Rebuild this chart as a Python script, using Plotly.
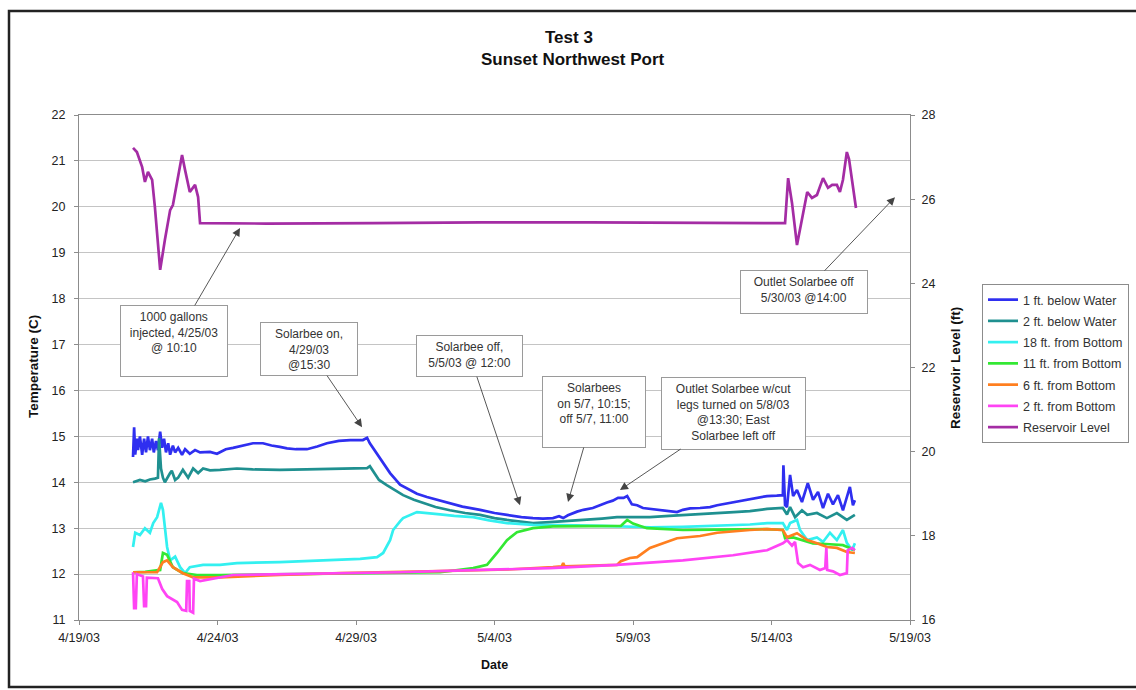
import pandas as pd
import plotly.graph_objects as go

START = pd.Timestamp("2003-04-19")

# ---- data: elapsed days since 4/19/03 00:00 and readings ----
blue_days = [1.95, 1.99, 2.03, 2.09, 2.13, 2.20, 2.28, 2.35, 2.42, 2.49, 2.56, 2.64, 2.70, 2.78, 2.85, 2.93,
             3.00, 3.07, 3.14, 3.22, 3.29, 3.39, 3.47, 3.58, 3.72, 3.83, 4.00, 4.19, 4.37, 4.73, 4.98, 5.30,
             5.56, 5.98, 6.28, 6.64, 6.95, 7.25, 7.51, 7.83, 8.23, 8.60, 8.95, 9.38, 9.79, 10.25, 10.40, 10.50,
             10.61, 10.76, 10.98, 11.23, 11.59, 11.84, 12.20, 12.56, 13.04, 13.39, 13.84, 14.48, 15.00, 15.45,
             15.97, 16.39, 16.75, 17.11, 17.33, 17.48, 17.65, 17.98, 18.21, 18.55, 18.79, 19.06, 19.27, 19.46,
             19.66, 19.79, 19.96, 20.15, 20.36, 20.63, 20.98, 21.31, 21.59, 21.80, 22.06, 22.42, 22.78, 23.04,
             23.50, 23.86, 24.22, 24.59, 24.84, 25.19, 25.41, 25.43, 25.49, 25.56, 25.67, 25.78, 25.92, 26.10,
             26.31, 26.50, 26.68, 26.86, 27.04, 27.22, 27.40, 27.58, 27.83, 27.94, 28.01]
blue_temp = [14.55, 15.20, 14.60, 14.95, 14.70, 15.00, 14.60, 14.95, 14.65, 15.00, 14.70, 14.95, 14.65, 14.90,
             14.70, 15.10, 14.75, 14.95, 14.65, 14.85, 14.60, 14.80, 14.65, 14.75, 14.60, 14.72, 14.62, 14.70,
             14.65, 14.66, 14.62, 14.72, 14.75, 14.80, 14.85, 14.85, 14.80, 14.77, 14.74, 14.72, 14.72, 14.78,
             14.85, 14.90, 14.92, 14.92, 14.97, 14.85, 14.75, 14.64, 14.42, 14.20, 13.95, 13.87, 13.75, 13.68,
             13.60, 13.55, 13.47, 13.40, 13.33, 13.29, 13.24, 13.22, 13.21, 13.22, 13.26, 13.22, 13.28, 13.36,
             13.40, 13.44, 13.50, 13.56, 13.60, 13.66, 13.66, 13.70, 13.52, 13.50, 13.44, 13.42, 13.39, 13.37,
             13.35, 13.40, 13.43, 13.44, 13.46, 13.50, 13.55, 13.60, 13.64, 13.67, 13.70, 13.71, 13.72, 14.37,
             13.50, 13.46, 14.16, 13.70, 13.83, 13.57, 13.98, 13.62, 13.79, 13.44, 13.75, 13.52, 13.72, 13.39,
             13.90, 13.50, 13.61]

teal_days = [1.95, 2.20, 2.39, 2.56, 2.74, 2.85, 2.89, 2.96, 3.03, 3.10, 3.29, 3.35, 3.47, 3.58, 3.75, 3.94,
             4.12, 4.30, 4.48, 4.73, 5.09, 5.70, 6.27, 7.25, 8.21, 9.18, 9.96, 10.40, 10.50, 10.61, 10.83, 11.11,
             11.42, 11.70, 12.09, 12.41, 12.87, 13.39, 13.94, 14.48, 15.00, 15.45, 15.97, 16.39, 17.00, 17.62,
             18.20, 18.88, 19.42, 20.15, 20.61, 21.31, 21.80, 22.38, 23.04, 23.64, 24.22, 24.84, 25.41, 25.56,
             25.67, 25.85, 26.10, 26.29, 26.64, 27.00, 27.36, 27.72, 28.01]
teal_temp = [14.00, 14.05, 14.02, 14.06, 14.08, 14.10, 14.96, 14.30, 14.10, 14.00, 14.20, 14.25, 14.05, 14.10,
             14.27, 14.10, 14.30, 14.20, 14.30, 14.26, 14.27, 14.30, 14.28, 14.27, 14.28, 14.30, 14.30, 14.31,
             14.35, 14.25, 14.05, 13.94, 13.82, 13.72, 13.62, 13.55, 13.46, 13.39, 13.33, 13.29, 13.22, 13.18,
             13.14, 13.11, 13.13, 13.15, 13.18, 13.21, 13.24, 13.24, 13.24, 13.27, 13.29, 13.31, 13.33, 13.35,
             13.37, 13.42, 13.44, 13.30, 13.46, 13.24, 13.39, 13.29, 13.33, 13.22, 13.33, 13.18, 13.29]

cyan_days = [1.95, 2.03, 2.20, 2.38, 2.56, 2.68, 2.82, 2.96, 3.03, 3.18, 3.29, 3.47, 3.65, 3.83, 4.00, 4.48,
             5.09, 5.70, 7.25, 8.21, 9.43, 10.15, 10.76, 10.98, 11.23, 11.34, 11.59, 11.70, 12.20, 12.58, 13.04,
             13.55, 14.23, 14.81, 15.45, 16.39, 17.11, 17.91, 18.88, 19.85, 20.61, 21.79, 23.04, 24.22, 24.84,
             25.41, 25.56, 25.67, 25.92, 26.03, 26.29, 26.64, 26.86, 27.11, 27.36, 27.58, 27.72, 27.91, 28.01]
cyan_temp = [12.59, 12.90, 12.85, 13.00, 12.90, 13.11, 13.24, 13.55, 13.40, 12.59, 12.30, 12.38, 12.15, 12.02,
             12.15, 12.20, 12.20, 12.24, 12.26, 12.28, 12.30, 12.33, 12.37, 12.46, 12.74, 12.96, 13.15, 13.22,
             13.35, 13.32, 13.30, 13.27, 13.24, 13.17, 13.11, 13.07, 13.07, 13.06, 13.05, 13.04, 13.02, 13.03,
             13.05, 13.08, 13.11, 13.11, 12.96, 13.11, 13.18, 12.96, 12.74, 12.80, 12.70, 12.90, 12.74, 12.96,
             12.68, 12.52, 12.67]

green_days = [1.95, 2.39, 2.93, 3.03, 3.18, 3.39, 3.75, 4.26, 5.09, 7.25, 9.43, 13.04, 14.23, 14.73, 15.09,
              15.45, 15.81, 16.39, 17.11, 18.20, 19.42, 19.56, 19.79, 20.00, 20.50, 21.80, 23.04, 24.84, 25.41,
              25.49, 25.78, 26.50, 27.11, 27.58, 27.83, 28.01]
green_temp = [12.04, 12.05, 12.09, 12.46, 12.42, 12.15, 12.02, 11.98, 11.98, 12.00, 12.02, 12.04, 12.13, 12.20,
              12.46, 12.74, 12.91, 13.00, 13.04, 13.04, 13.04, 13.05, 13.18, 13.10, 13.00, 12.96, 12.97, 12.98,
              12.96, 12.78, 12.80, 12.67, 12.65, 12.63, 12.57, 12.52]

orange_days = [1.95, 2.82, 3.03, 3.18, 3.39, 3.75, 4.12, 5.09, 7.25, 9.43, 12.58, 15.49, 17.11, 17.43, 17.48,
               17.53, 19.42, 19.56, 19.89, 20.15, 20.61, 21.59, 22.42, 23.04, 24.22, 24.84, 25.41, 25.56, 25.92,
               26.29, 26.64, 27.00, 27.36, 27.72, 28.01]
orange_temp = [12.04, 12.04, 12.26, 12.30, 12.15, 12.02, 11.93, 11.93, 11.98, 12.02, 12.06, 12.10, 12.15, 12.17,
               12.24, 12.17, 12.20, 12.28, 12.35, 12.37, 12.57, 12.78, 12.83, 12.90, 12.96, 12.98, 12.96, 12.80,
               12.89, 12.74, 12.67, 12.59, 12.57, 12.48, 12.46]

pink_days = [1.95, 1.99, 2.05, 2.09, 2.31, 2.35, 2.42, 2.45, 2.85, 3.00, 3.18, 3.54, 3.72, 3.87, 3.90, 3.98,
             4.00, 4.12, 4.15, 4.37, 5.56, 9.43, 11.59, 14.52, 17.00, 19.42, 21.80, 23.61, 24.84, 25.41, 25.56,
             25.74, 25.85, 25.96, 26.14, 26.39, 26.75, 26.94, 26.98, 27.01, 27.22, 27.47, 27.72, 27.75, 27.91,
             28.01]
pink_temp = [12.04, 11.26, 11.26, 12.00, 11.95, 11.30, 11.30, 11.92, 11.91, 11.68, 11.52, 11.39, 11.22, 11.20,
             11.85, 11.85, 11.20, 11.16, 11.90, 11.85, 11.98, 12.02, 12.04, 12.09, 12.13, 12.20, 12.30, 12.41,
             12.52, 12.67, 12.74, 12.62, 12.70, 12.24, 12.15, 12.20, 12.09, 12.13, 12.57, 12.09, 12.06, 11.98,
             12.02, 12.52, 12.57, 12.52]

level_days = [1.95, 2.09, 2.28, 2.38, 2.49, 2.64, 2.74, 2.93, 3.10, 3.29, 3.39, 3.72, 3.83, 4.00, 4.19, 4.30,
              4.37, 6.76, 10.64, 14.52, 18.40, 22.28, 25.49, 25.60, 25.74, 25.92, 26.10, 26.29, 26.46, 26.64,
              26.86, 27.04, 27.19, 27.36, 27.47, 27.58, 27.72, 27.80, 28.05]
level_ft = [27.22, 27.12, 26.76, 26.41, 26.65, 26.46, 25.81, 24.32, 25.03, 25.74, 25.86, 27.05, 26.69, 26.17,
            26.34, 26.05, 25.43, 25.42, 25.43, 25.45, 25.45, 25.44, 25.43, 26.50, 25.91, 24.91, 25.50, 26.17,
            26.03, 26.10, 26.50, 26.27, 26.34, 26.34, 26.17, 26.46, 27.12, 26.95, 25.79]

series_names = ["1 ft. below Water", "2 ft. below Water", "18 ft. from Bottom", "11 ft. from Bottom",
                "6 ft. from Bottom", "2 ft. from Bottom", "Reservoir Level"]
series_colors = ["#2f2ff0", "#1f9090", "#33f0f0", "#33e833", "#ff7f1f", "#ff44f4", "#a42ca4"]

tick_dates = ["2003-04-19", "2003-04-24", "2003-04-29", "2003-05-04", "2003-05-09", "2003-05-14", "2003-05-19"]
tick_labels = ["4/19/03", "4/24/03", "4/29/03", "5/4/03", "5/9/03", "5/14/03", "5/19/03"]

# annotations: (tip date, tip temperature, text)
note_dates = ["2003-04-24 19:30", "2003-04-29 05:15", "2003-05-04 22:05", "2003-05-06 15:40",
              "2003-05-08 12:40", "2003-05-18 11:00"]
note_temps = [19.54, 15.2, 13.5, 13.57, 13.83, 20.21]
note_texts = ["1000 gallons<br>injected, 4/25/03<br>@ 10:10",
              "Solarbee on,<br>4/29/03<br>@15:30",
              "Solarbee off,<br>5/5/03 @ 12:00",
              "Solarbees<br>on 5/7, 10:15;<br>off 5/7, 11:00",
              "Outlet Solarbee w/cut<br>legs turned on 5/8/03<br>@13:30; East<br>Solarbee left off",
              "Outlet Solarbee off<br>5/30/03 @14:00"]


def to_dates(days):
    return START + pd.to_timedelta(days, unit="D")


FONT = "Liberation Sans, Arial, sans-serif"
fig = go.Figure()

temp_series = [(blue_days, blue_temp), (teal_days, teal_temp), (cyan_days, cyan_temp),
               (green_days, green_temp), (orange_days, orange_temp), (pink_days, pink_temp)]
for i, (d, v) in enumerate(temp_series):
    fig.add_trace(go.Scatter(x=to_dates(d), y=v, mode="lines", name=series_names[i],
                             legendgroup=str(i),
                             line=dict(color=series_colors[i], width=2.7)))
fig.add_trace(go.Scatter(x=to_dates(level_days), y=level_ft, mode="lines", name=series_names[6],
                         legendgroup="6", yaxis="y2",
                         line=dict(color=series_colors[6], width=2.7)))

L, R, T, B = 79, 226, 115, 70
W, H = 1136, 690
pw, ph = W - L - R, H - T - B


def px_x(x):
    return (x - L) / pw


def px_y(y):
    return (H - B - y) / ph


# annotation box geometry (pixel offsets / sizes)
note_ax = [-66, -53, -50, 26, 114, -91]
note_ay = [113, -78, -149, -90, -77, 95]
note_w = [98, 88, 97, 94, 135, 118]
note_h = [62, 44, 32, 62, 63, 34]

annotations = []
for i in range(len(note_texts)):
    annotations.append(dict(
        x=note_dates[i], y=note_temps[i], xref="x", yref="y", text=note_texts[i],
        showarrow=True, ax=note_ax[i], ay=note_ay[i], arrowhead=2, arrowsize=1.8, arrowwidth=0.9,
        arrowcolor="#444", bgcolor="white", bordercolor="#9a9a9a", borderwidth=1, borderpad=4,
        width=note_w[i], height=note_h[i], valign="top", align="center",
        font=dict(family=FONT, size=12, color="#333")))


def label(text, x, y, size, angle=0):
    return dict(text=text, x=px_x(x), y=px_y(y), xref="paper", yref="paper", showarrow=False,
                xanchor="center", yanchor="middle", textangle=angle,
                font=dict(family=FONT, size=size, color="#111"))


annotations += [
    label("<b>Test 3</b>", 569, 37, 17),
    label("<b>Sunset Northwest Port</b>", 573, 60, 17),
    label("<b>Temperature (C)</b>", 33, 367, 13.5, -90),
    label("<b>Reservoir Level (ft)</b>", 955, 368, 13.5, -90),
    label("<b>Date</b>", 494, 665, 12.5),
]

fig.update_layout(
    width=W, height=H, autosize=False,
    margin=dict(l=L, r=R, t=T, b=B, autoexpand=False),
    paper_bgcolor="white", plot_bgcolor="white",
    font=dict(family=FONT, size=12, color="#222"),
    showlegend=True,
    legend=dict(x=px_x(982), y=px_y(284), xanchor="left", yanchor="top",
                bordercolor="#8c8c8c", borderwidth=1, bgcolor="white",
                font=dict(family=FONT, size=12.5, color="#333"), tracegroupgap=2, itemwidth=30),
    xaxis=dict(type="date", range=["2003-04-19", "2003-05-19"], tickvals=tick_dates, ticktext=tick_labels,
               showgrid=False, zeroline=False, showline=True, linecolor="#8c8c8c", mirror=True,
               ticks="outside", ticklen=4, tickcolor="#8c8c8c", ticklabelstandoff=2,
               tickfont=dict(family=FONT, size=12.5, color="#222")),
    yaxis=dict(range=[11, 22], dtick=1, tick0=11, showgrid=True, gridcolor="#c4c4c4", gridwidth=1.2,
               zeroline=False, showline=True, linecolor="#8c8c8c", mirror=True,
               ticks="outside", ticklen=4, tickcolor="#8c8c8c", ticklabelstandoff=6,
               tickfont=dict(family=FONT, size=12.5, color="#222")),
    yaxis2=dict(range=[16, 28], dtick=2, tick0=16, overlaying="y", side="right", showgrid=False,
                zeroline=False, showline=True, linecolor="#8c8c8c",
                ticks="outside", ticklen=4, tickcolor="#8c8c8c", ticklabelstandoff=4,
                tickfont=dict(family=FONT, size=12.5, color="#222")),
    annotations=annotations,
    shapes=[dict(type="rect", xref="paper", yref="paper", x0=px_x(9), x1=px_x(1145),
                 y0=px_y(687), y1=px_y(11), line=dict(color="#222", width=2.5), layer="above")],
)

fig.write_html("out.html", config={"displayModeBar": False},
               post_script="document.body.style.margin='0';document.body.style.overflow='hidden';")
